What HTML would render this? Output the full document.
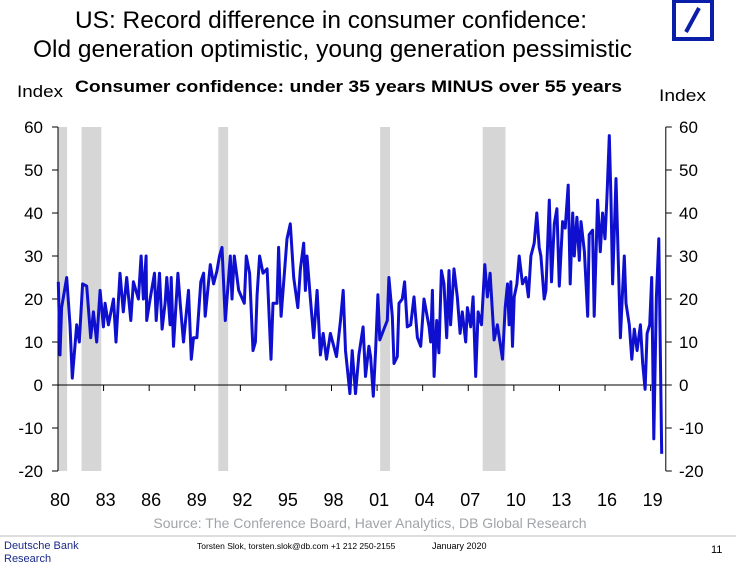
<!DOCTYPE html>
<html><head><meta charset="utf-8"><style>
body{margin:0;background:#fff;width:736px;height:567px;overflow:hidden;font-family:"Liberation Sans",sans-serif}
svg text{font-family:"Liberation Sans",sans-serif}
</style></head><body>
<svg id="chart" width="736" height="567">
<text x="75" y="28" font-size="24" textLength="512" lengthAdjust="spacingAndGlyphs">US: Record difference in consumer confidence:</text>
<text x="33" y="57" font-size="24" textLength="599" lengthAdjust="spacingAndGlyphs">Old generation optimistic, young generation pessimistic</text>
<text x="75" y="92" font-size="17" font-weight="bold" textLength="547" lengthAdjust="spacingAndGlyphs">Consumer confidence: under 35 years MINUS over 55 years</text>
<text x="17" y="97" font-size="17" textLength="46" lengthAdjust="spacingAndGlyphs">Index</text>
<text x="659" y="101" font-size="17" textLength="47" lengthAdjust="spacingAndGlyphs">Index</text>
<g>
<rect x="674" y="1" width="38" height="38" fill="none" stroke="#0a1fa8" stroke-width="4"/>
<line x1="686" y1="32" x2="699" y2="8" stroke="#0a1fa8" stroke-width="4"/>
</g>
<g id="rec"></g><g id="axes"></g><g id="series"></g>
<text x="370" y="528" font-size="14" fill="#a0a4a8" text-anchor="middle">Source: The Conference Board, Haver Analytics, DB Global Research</text>
<line x1="0" y1="536" x2="736" y2="536" stroke="#bbb" stroke-width="1"/>
<text x="4" y="549" font-size="11" fill="#1a2a8a">Deutsche Bank</text>
<text x="4" y="562" font-size="11" fill="#1a2a8a">Research</text>
<text x="197" y="549" font-size="8.5">Torsten Slok, torsten.slok@db.com  +1 212 250-2155</text>
<text x="432" y="549" font-size="9">January 2020</text>
<text x="711" y="553" font-size="11">11</text>
</svg>
<script>
const years=[1980.02,1980.13,1980.24,1980.57,1980.79,1980.94,1981.23,1981.40,1981.62,1981.89,1982.15,1982.33,1982.55,1982.77,1982.99,1983.10,1983.32,1983.65,1983.82,1984.08,1984.30,1984.52,1984.79,1984.96,1985.29,1985.47,1985.62,1985.80,1985.84,1986.06,1986.35,1986.46,1986.68,1986.85,1987.05,1987.16,1987.38,1987.45,1987.60,1987.89,1988.04,1988.26,1988.59,1988.77,1988.92,1989.14,1989.40,1989.58,1989.69,1990.02,1990.24,1990.46,1990.63,1990.79,1991.01,1991.34,1991.45,1991.60,1991.89,1992.26,1992.39,1992.61,1992.83,1992.99,1993.10,1993.27,1993.49,1993.76,1994.02,1994.15,1994.41,1994.52,1994.68,1995.07,1995.29,1995.51,1995.78,1995.95,1996.17,1996.28,1996.39,1996.61,1996.83,1997.05,1997.27,1997.45,1997.67,1997.93,1998.33,1998.59,1998.77,1998.92,1999.21,1999.36,1999.58,1999.80,2000.08,2000.24,2000.46,2000.57,2000.75,2000.90,2001.05,2001.18,2001.45,2001.67,2001.78,2002.00,2002.11,2002.33,2002.44,2002.66,2002.81,2002.99,2003.21,2003.43,2003.65,2003.87,2004.09,2004.42,2004.53,2004.64,2004.75,2004.92,2005.07,2005.23,2005.40,2005.58,2005.73,2005.84,2006.06,2006.28,2006.46,2006.61,2006.83,2006.94,2007.16,2007.32,2007.49,2007.65,2007.87,2008.09,2008.26,2008.44,2008.70,2008.92,2009.25,2009.43,2009.58,2009.69,2009.80,2009.91,2010.02,2010.20,2010.35,2010.57,2010.79,2010.96,2011.12,2011.34,2011.51,2011.67,2011.78,2012.00,2012.11,2012.33,2012.48,2012.66,2012.83,2012.99,2013.21,2013.38,2013.58,2013.71,2013.87,2013.98,2014.15,2014.31,2014.42,2014.64,2014.86,2014.96,2015.18,2015.29,2015.51,2015.69,2015.84,2016.00,2016.13,2016.28,2016.39,2016.50,2016.72,2016.88,2017.01,2017.16,2017.27,2017.38,2017.60,2017.76,2017.93,2018.11,2018.33,2018.48,2018.64,2018.77,2018.94,2019.07,2019.21,2019.38,2019.54,2019.73];
const values=[24,7,18,25,14,1.6,14,10,23.5,23,11,17,10,22,13.5,19,14,20,10,26,17,25,15,24,20,30,20,30,15,20,26,15,26,13,19,25,14,25,9,26,19,10,22,6,11,11,24,26,16,28,23.5,26.5,30,32,15,30,20,30,22,19,30,26,8,10,21,30,26,27,6,19,19,32,16,34,37.5,25,18,27,33,22,30,20,11,22,7,12,6,12,6.6,15,22,8,-2,8,-2,7,13.5,2,9,6.6,-2.6,8,21,10.5,13,15,25,16,5,6.6,19,20,24,13.5,14,20.5,11,9,20,13.5,10,22,2,15,7.5,26.6,23.5,11,26.6,14,27,20.5,12,17,10,18,13.5,20.5,2,17,14,28,20.5,26,10.5,14,6,18,23.5,14,24,9,20.5,23.5,30,23.5,25,20.5,30,33,40,32,30,20,22,43,24,37.5,41,23,38,36.5,46.5,23.5,40,30,39,29,38,31,16,35,36,16,43,31,40,34,44,58,44,23.5,48,28,11,22,30,19,14,6,13,8,14,5,-1,12,14,25,-12.5,20.5,34,-16];
const yTicks=[60,50,40,30,20,10,0,-10,-20];
const xTickYears=[1980,1983,1986,1989,1992,1995,1998,2001,2004,2007,2010,2013,2016,2019];
const xTickLabels=["80","83","86","89","92","95","98","01","04","07","10","13","16","19"];
const recStarts=[1980.0,1981.55,1990.55,2001.2,2007.95];
const recEnds=[1980.6,1982.85,1991.2,2001.85,2009.45];
const X0=58,X1=665.8,Y0=385,YS=4.3;
const sx=y=>X0+(y-1980)*(X1-X0)/40;
const sy=v=>Y0-v*YS;
const NS='http://www.w3.org/2000/svg';
function mk(tag,attrs,parent){const e=document.createElementNS(NS,tag);for(const k in attrs)e.setAttribute(k,attrs[k]);document.getElementById(parent).appendChild(e);return e;}
recStarts.forEach((s,i)=>{
 const r=mk('rect',{x:sx(s),y:sy(60),width:sx(recEnds[i])-sx(s),height:sy(-20)-sy(60),fill:'#d6d6d6'},'rec');
 
 
});
let a=mk('line',{x1:X0,y1:sy(60),x2:X0,y2:sy(-20),stroke:'#000','stroke-width':1},'axes');


a=mk('line',{x1:X1,y1:sy(60),x2:X1,y2:sy(-20),stroke:'#000','stroke-width':1},'axes');


a=mk('line',{x1:X0,y1:sy(0),x2:X1,y2:sy(0),stroke:'#000','stroke-width':1},'axes');


yTicks.forEach(v=>{
 mk('line',{x1:X0-6,y1:sy(v),x2:X0,y2:sy(v),stroke:'#000'},'axes');
 mk('line',{x1:X1,y1:sy(v),x2:X1+6,y2:sy(v),stroke:'#000'},'axes');
 let t=mk('text',{x:43,y:sy(v)+6,'font-size':17,'text-anchor':'end'},'axes');t.textContent=v;
 
 
 t=mk('text',{x:679,y:sy(v)+6,'font-size':17},'axes');t.textContent=v;
 
 
});
xTickYears.forEach((y,i)=>{
 if(i>0)mk('line',{x1:sx(y),y1:sy(0),x2:sx(y),y2:sy(0)+6,stroke:'#000'},'axes');
 const t=mk('text',{x:sx(y)+2,y:506,'font-size':18,'text-anchor':'middle'},'axes');t.textContent=xTickLabels[i];
 
 
});
const p=mk('polyline',{points:years.map((y,i)=>sx(y).toFixed(1)+','+sy(values[i]).toFixed(1)).join(' '),fill:'none',stroke:'#0f0fd0','stroke-width':3,'stroke-linejoin':'round'},'series');


</script>
</body></html>
